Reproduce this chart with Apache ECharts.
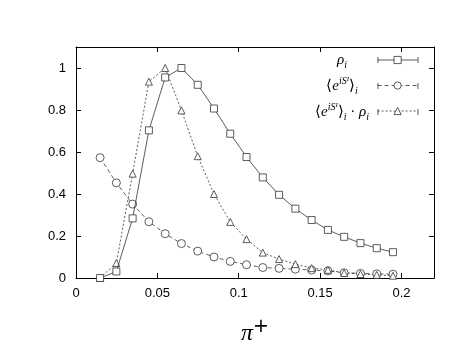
<!DOCTYPE html>
<html><head><meta charset="utf-8">
<script src="https://cdn.jsdelivr.net/npm/echarts@6/dist/echarts.min.js"></script>
<style>html,body{margin:0;padding:0;background:#fff}#c{width:472px;height:354px}</style>
</head><body><div id="c"></div>
<script>
const xValues = [0.0148,0.0248,0.0348,0.0448,0.0548,0.0648,0.0748,0.0848,0.0948,0.1048,0.1148,0.1248,0.1348,0.1448,0.1548,0.1648,0.1748,0.1848,0.1948];
const rho = [0.0,0.031,0.284,0.703,0.955,1.0,0.92,0.807,0.687,0.576,0.479,0.396,0.330,0.276,0.229,0.196,0.166,0.142,0.123];
const phase = [0.573,0.453,0.352,0.268,0.211,0.164,0.128,0.100,0.079,0.063,0.050,0.046,0.042,0.038,0.034,0.025,0.022,0.020,0.018];
const product = [0.0,0.071,0.497,0.935,1.0,0.798,0.58,0.40,0.267,0.185,0.121,0.09,0.066,0.047,0.039,0.024,0.019,0.015,0.011];
const xTicks = [0,0.05,0.1,0.15,0.2];
const yTicks = [0,0.2,0.4,0.6,0.8,1];
const names = ['rho','phase','product'];
const legendLabels = [
  '{it|ρ}{sub|i}',
  '{n|⟨}{it|e}{sup|iS}{ss|I}{n|⟩}{sub|i}',
  '{n|⟨}{it|e}{sup|iS}{ss|I}{n|⟩}{sub|i}{n| · }{it|ρ}{sub|i}'
];

const pair = ys => xValues.map((x,i)=>[x,ys[i]]);
const onTick = (ticks)=> v => ticks.some(t=>Math.abs(t-v)<1e-9) ? String(+v.toFixed(2)) : '';

const chart = echarts.init(document.getElementById('c'));
const frame = {show:true, onZero:false, lineStyle:{color:'#000', width:1}};
const tickIn = {show:true, inside:true, length:5, lineStyle:{color:'#000', width:1}};
const serif = 'Liberation Serif';
const rich = {
  it:{fontFamily:serif, fontStyle:'italic', fontSize:15, lineHeight:20, verticalAlign:'middle', fill:'#000', color:'#000'},
  n:{fontFamily:serif, fontSize:15, lineHeight:20, verticalAlign:'middle', fill:'#000', color:'#000'},
  sub:{fontFamily:serif, fontStyle:'italic', fontSize:10, lineHeight:8, verticalAlign:'bottom', fill:'#000', color:'#000'},
  sup:{fontFamily:serif, fontStyle:'italic', fontSize:10, lineHeight:10, verticalAlign:'top', fill:'#000', color:'#000'},
  ss:{fontFamily:serif, fontStyle:'italic', fontSize:7, lineHeight:16, verticalAlign:'top', fill:'#000', color:'#000'}
};
const legendY = [60, 86, 112];
const graphics = [];
legendLabels.forEach((t,i)=>{
  graphics.push({type:'text', x:342, y:legendY[i], style:{text:t, rich:rich, align:'center', verticalAlign:'middle', fill:'#000'}});
  [378,418].forEach(cx=>graphics.push({type:'line', shape:{x1:cx,y1:legendY[i]-3,x2:cx,y2:legendY[i]+3}, style:{stroke:'#333', lineWidth:0.8}}));
});

chart.setOption({
  animation:false,
  grid:{left:76, right:38, top:47, bottom:76},
  legend:{
    orient:'vertical', right:54, top:55.5, align:'right', padding:0,
    itemWidth:40, itemHeight:9, itemGap:17,
    data:names, formatter: () => '',
    textStyle:{fontSize:6, padding:0},
    lineStyle:{width:0.8},
    itemStyle:{borderWidth:0.8}
  },
  graphic:graphics,
  xAxis:[{
    type:'value', min:0, max:0.22, interval:0.05,
    axisLine:frame, axisTick:tickIn, splitLine:{show:false},
    axisLabel:{formatter:onTick(xTicks), fontFamily:'Liberation Sans', fontSize:13, color:'#000', margin:9, showMaxLabel:false},
    name:'{p|π}{s|+}', nameLocation:'middle', nameGap:40,
    nameTextStyle:{rich:{
      p:{fontFamily:serif, fontStyle:'italic', fontSize:24, lineHeight:28, verticalAlign:'bottom', color:'#000'},
      s:{fontFamily:'DejaVu Sans', fontSize:19, lineHeight:24, verticalAlign:'top', color:'#000'}
    }}
  },{
    type:'value', position:'top', min:0, max:0.22, interval:0.05,
    axisLine:frame, axisTick:tickIn, axisLabel:{show:false}, splitLine:{show:false}
  }],
  yAxis:[{
    type:'value', min:0, max:1.1, interval:0.2,
    axisLine:frame, axisTick:tickIn, splitLine:{show:false},
    axisLabel:{formatter:onTick(yTicks), fontFamily:'Liberation Sans', fontSize:13, color:'#000', margin:10, showMaxLabel:false}
  },{
    type:'value', position:'right', min:0, max:1.1, interval:0.2,
    axisLine:frame, axisTick:tickIn, axisLabel:{show:false}, splitLine:{show:false}
  }],
  series:[
    {name:'rho', type:'line', data:pair(rho), symbol:'rect', symbolSize:7,
     itemStyle:{color:'#fff', borderColor:'#333', borderWidth:0.8},
     lineStyle:{color:'#333', width:0.8, type:'solid'}, z:3},
    {name:'phase', type:'line', data:pair(phase), symbol:'circle', symbolSize:8,
     itemStyle:{color:'#fff', borderColor:'#333', borderWidth:0.8},
     lineStyle:{color:'#333', width:0.8, type:[4,3]}, z:2},
    {name:'product', type:'line', data:pair(product), symbol:'triangle', symbolSize:7,
     itemStyle:{color:'#fff', borderColor:'#333', borderWidth:0.8},
     lineStyle:{color:'#333', width:0.8, type:[2,2]}, z:2}
  ]
});
</script></body></html>
